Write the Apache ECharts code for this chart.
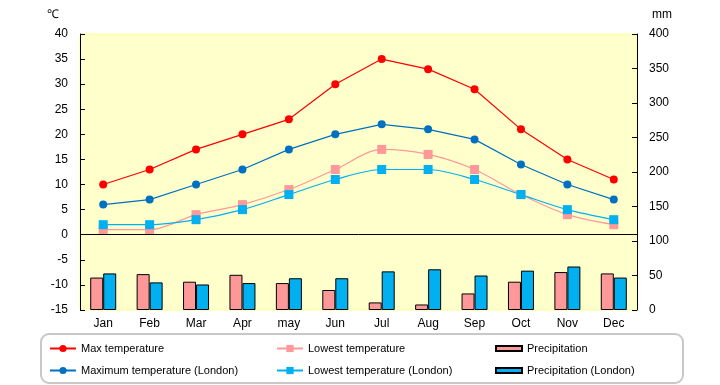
<!DOCTYPE html>
<html><head><meta charset="utf-8">
<script src="https://cdn.jsdelivr.net/npm/echarts@6/dist/echarts.min.js"></script>
<style>html,body{margin:0;padding:0;background:#fff}#c{width:720px;height:385px}</style>
</head><body><div id="c"></div>
<script>
const months = ['Jan','Feb','Mar','Apr','may','Jun','Jul','Aug','Sep','Oct','Nov','Dec'];
const maxTemp = [10, 13, 17, 20, 23, 30, 35, 33, 29, 21, 15, 11];
const maxTempLondon = [6, 7, 10, 13, 17, 20, 22, 21, 19, 14, 10, 7];
const lowTemp = [1, 1, 4, 6, 9, 13, 17, 16, 13, 8, 4, 2];
const lowTempLondon = [2, 2, 3, 5, 8, 11, 13, 13, 11, 8, 5, 3];
const precip = [47, 52, 41, 51, 39, 29, 11, 8, 24, 41, 55, 53];
const precipLondon = [53, 40, 37, 39, 46, 46, 56, 59, 50, 57, 63, 47];

const FONT = 'Liberation Sans, Arial, sans-serif';
const chart = echarts.init(document.getElementById('c'), null, {renderer: 'canvas'});

function lg(name, left, top, h, icon) {
  const o = {
    data: [icon ? {name: name, icon: icon} : name], left: left, top: top, orient: 'horizontal',
    itemWidth: 26, itemHeight: h, padding: 0, itemGap: 0,
    textStyle: {fontFamily: FONT, fontSize: 11, color: '#000'},
    selectedMode: false
  };
  return o;
}

chart.setOption({
  animation: false,
  textStyle: {fontFamily: FONT},
  grid: {left: 80, right: 83, top: 34, bottom: 75, show: true,
         backgroundColor: '#FFFFCC', borderColor: '#FFFF99', borderWidth: 1},
  graphic: [
    {type: 'rect', shape: {x: 41, y: 334, width: 642, height: 49, r: 8},
     style: {fill: 'none', stroke: '#c8c8c8', lineWidth: 2}, z: 0},
    {type: 'text', left: 47, top: 9, style: {text: '℃', font: '12px ' + FONT, fill: '#000'}},
    {type: 'text', left: 652, top: 9, style: {text: 'mm', font: '12px ' + FONT, fill: '#000'}}
  ],
  legend: [
    lg('Max temperature', 49, 343, 9),
    lg('Maximum temperature (London)', 49, 365, 9),
    lg('Lowest temperature', 276, 343, 9),
    lg('Lowest temperature (London)', 276, 365, 9),
    lg('Precipitation', 495, 343, 5, 'rect'),
    lg('Precipitation (London)', 495, 365, 5, 'rect')
  ],
  xAxis: {
    type: 'category', data: months, boundaryGap: true,
    axisLine: {show: false}, axisTick: {show: false},
    axisLabel: {color: '#000', fontSize: 12, margin: 8, fontFamily: FONT}
  },
  yAxis: [
    {type: 'value', min: -15, max: 40, interval: 5, position: 'left',
     axisLine: {show: true, lineStyle: {color: '#000'}},
     axisTick: {show: true, inside: true, length: 5, lineStyle: {color: '#000'}},
     axisLabel: {color: '#000', fontSize: 12, margin: 12, fontFamily: FONT},
     splitLine: {show: false}},
    {type: 'value', min: 0, max: 400, interval: 50, position: 'right',
     axisLine: {show: true, lineStyle: {color: '#000'}},
     axisTick: {show: true, inside: true, length: 5, lineStyle: {color: '#000'}},
     axisLabel: {color: '#000', fontSize: 12, margin: 12, fontFamily: FONT},
     splitLine: {show: false}}
  ],
  series: [
    {name: 'Precipitation', type: 'bar', yAxisIndex: 1, data: precip,
     barWidth: 13, barGap: '0%',
     itemStyle: {color: '#FF9999', borderColor: '#000', borderWidth: 1}},
    {name: 'Precipitation (London)', type: 'bar', yAxisIndex: 1, data: precipLondon,
     barWidth: 13, barGap: '0%',
     itemStyle: {color: '#00B0F0', borderColor: '#000', borderWidth: 1}},
    {name: 'Max temperature', type: 'line', yAxisIndex: 0, data: maxTemp,
     symbol: 'circle', symbolSize: 8,
     lineStyle: {color: '#FF0000', width: 1.2}, itemStyle: {color: '#FF0000'},
     markLine: {silent: true, symbol: 'none', label: {show: false},
                lineStyle: {color: '#000', width: 1, type: 'solid'},
                data: [{yAxis: 0}]}},
    {name: 'Maximum temperature (London)', type: 'line', yAxisIndex: 0, data: maxTempLondon,
     symbol: 'circle', symbolSize: 8,
     lineStyle: {color: '#0070C0', width: 1.2}, itemStyle: {color: '#0070C0'}},
    {name: 'Lowest temperature', type: 'line', yAxisIndex: 0, data: lowTemp,
     symbol: 'rect', symbolSize: 9, smooth: 0.3,
     lineStyle: {color: '#FF9999', width: 1.2}, itemStyle: {color: '#FF9999'}},
    {name: 'Lowest temperature (London)', type: 'line', yAxisIndex: 0, data: lowTempLondon,
     symbol: 'rect', symbolSize: 9, smooth: 0.3,
     lineStyle: {color: '#00B0F0', width: 1.2}, itemStyle: {color: '#00B0F0'}}
  ]
});
</script></body></html>
